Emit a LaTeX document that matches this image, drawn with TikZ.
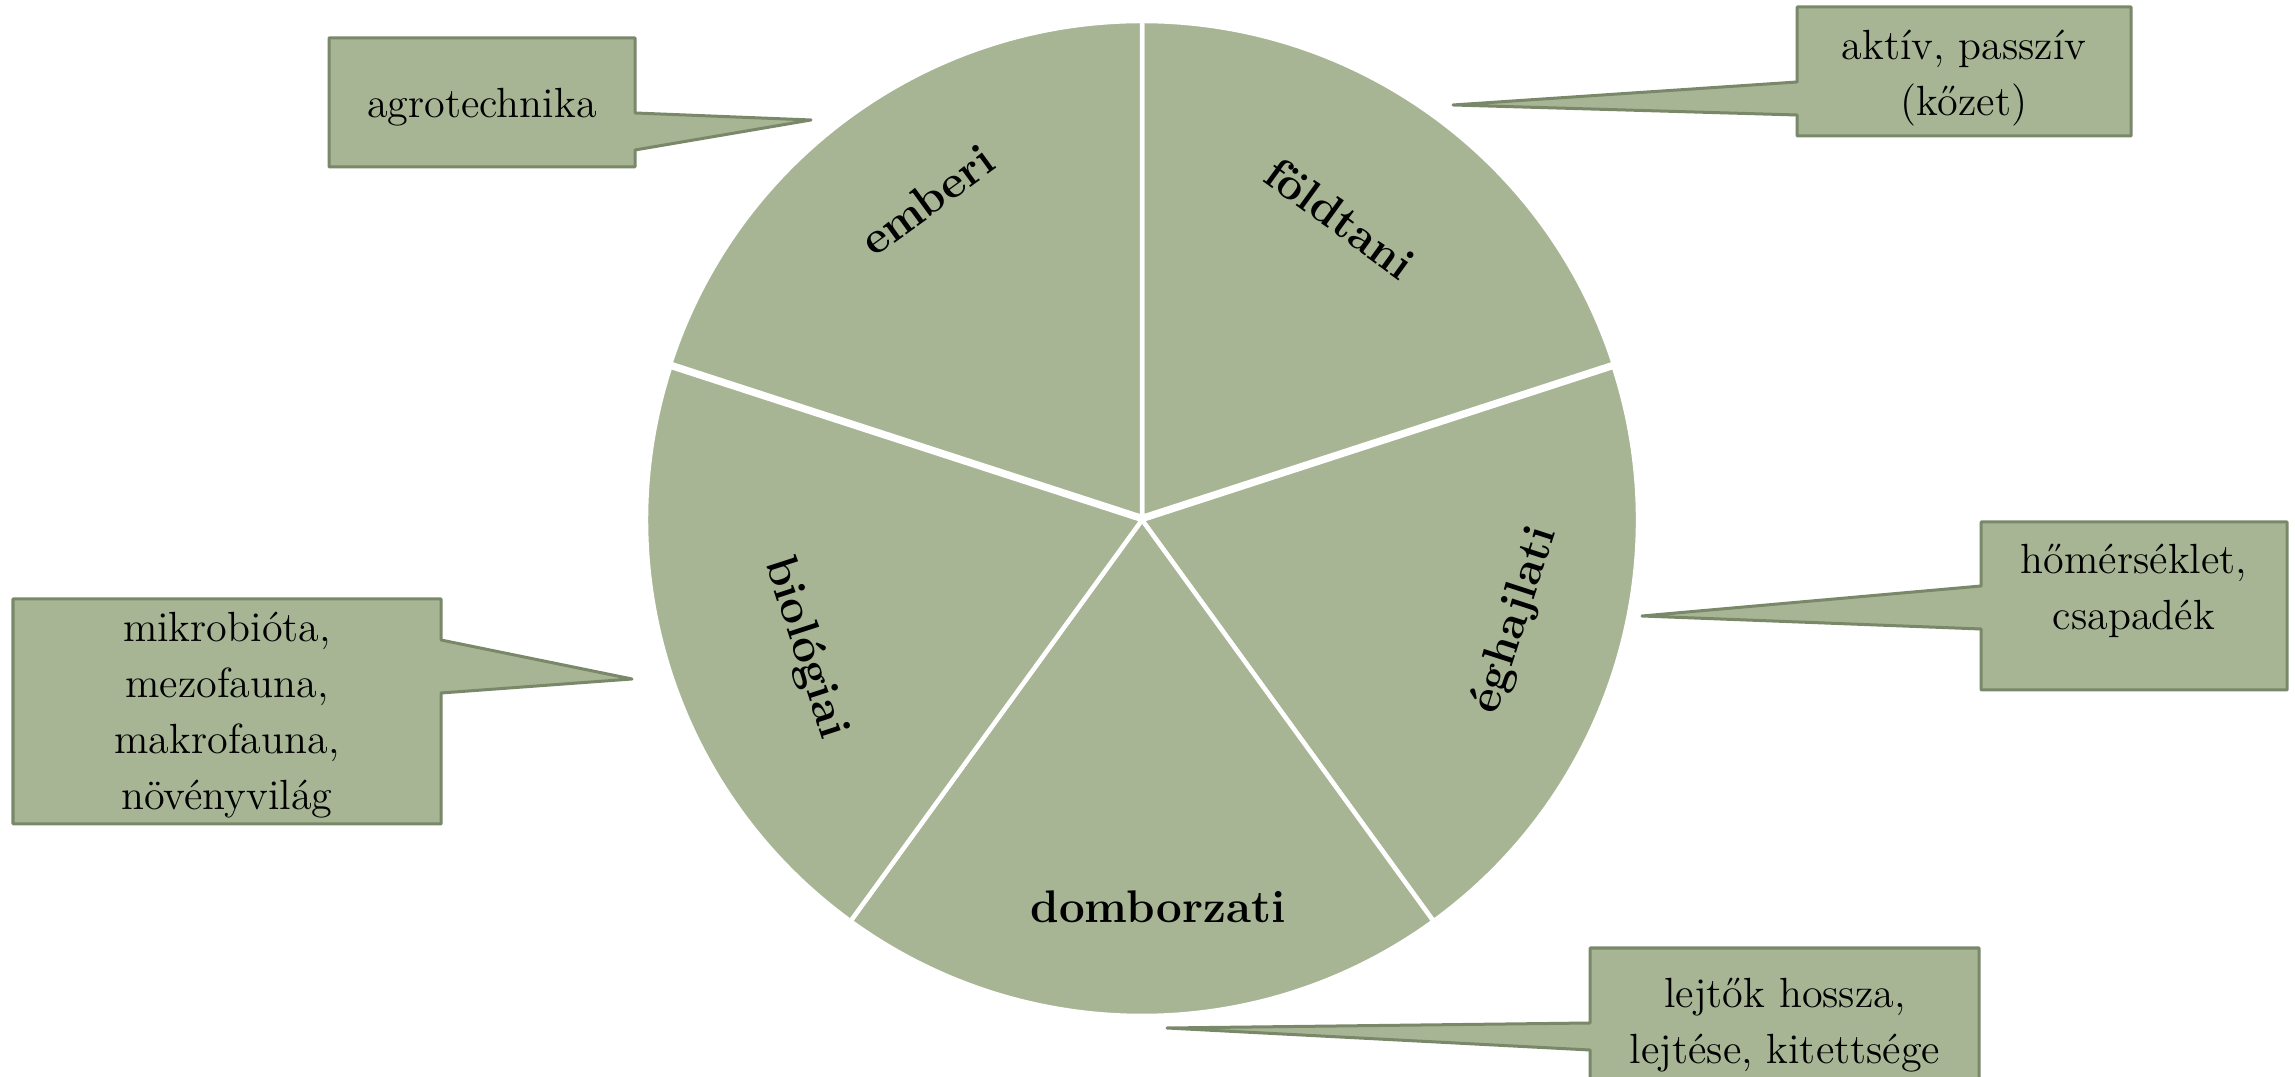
\documentclass[tikz,border=0pt]{standalone}
\usepackage{fontspec}
\begin{document}
\begin{tikzpicture}[x=0.01cm,y=0.01cm,
  pie/.style={fill=pieGreen,draw=white,line width=0.045cm,line join=miter},
  callout/.style={fill=pieGreen,draw=rimGreen,line width=0.03cm,line join=round},
  seglabel/.style={font=\fontsize{13}{15}\selectfont\bfseries,inner sep=0pt},
  notetext/.style={font=\fontsize{12}{15.9}\selectfont,align=center,inner sep=0pt}]
\definecolor{pieGreen}{RGB}{167,181,149}
\definecolor{rimGreen}{RGB}{122,136,106}
\useasboundingbox (0,0) rectangle (2295,1076);

% five equal sectors of the pie, the upper two lifted slightly
\coordinate (c) at (1142,556);
\fill[pie] ([yshift=0.03cm]c) -- ++(18:496) arc[start angle=18,end angle=90,radius=496] -- cycle;
\fill[pie] ([yshift=0.03cm]c) -- ++(90:496) arc[start angle=90,end angle=162,radius=496] -- cycle;
\fill[pie] (c) -- ++(-54:496) arc[start angle=-54,end angle=18,radius=496] -- cycle;
\fill[pie] (c) -- ++(-126:496) arc[start angle=-126,end angle=-54,radius=496] -- cycle;
\fill[pie] (c) -- ++(162:496) arc[start angle=162,end angle=234,radius=496] -- cycle;
\draw[pie] ([yshift=0.03cm]c) -- ++(18:496) arc[start angle=18,end angle=90,radius=496] -- cycle;
\draw[pie] ([yshift=0.03cm]c) -- ++(90:496) arc[start angle=90,end angle=162,radius=496] -- cycle;
\draw[pie] (c) -- ++(-54:496) arc[start angle=-54,end angle=18,radius=496] -- cycle;
\draw[pie] (c) -- ++(-126:496) arc[start angle=-126,end angle=-54,radius=496] -- cycle;
\draw[pie] (c) -- ++(162:496) arc[start angle=162,end angle=234,radius=496] -- cycle;

% sector labels
\node[seglabel,rotate=36]  (emb) at (927,876)  {emberi};
\node[seglabel,rotate=-36] (fol) at (1340,858) {földtani};
\node[seglabel,rotate=72]  (egh) at (1515,456) {éghajlati};
\node[seglabel]            (dom) at (1158,169) {domborzati};
\node[seglabel,rotate=-72] (bio) at (805,428)  {biológiai};

% callouts with pointers towards the sectors
\draw[callout] (329,1038) -- (635,1038) -- (635,963) -- (811,956) -- (635,926)
  -- (635,909) -- (329,909) -- cycle;
\node[notetext] (n1) at (482,969) {agrotechnika};

\draw[callout] (1797,1069) -- (2131,1069) -- (2131,940) -- (1797,940)
  -- (1797,961) -- (1453,971) -- (1797,994) -- cycle;
\node[notetext] (n2) at (1964,998) {aktív, passzív\\(kőzet)};

\draw[callout] (1981,554) -- (2287,554) -- (2287,386) -- (1981,386)
  -- (1981,447) -- (1642,460) -- (1981,490) -- cycle;
\node[notetext] (n3) at (2134,485) {hőmérséklet,\\csapadék};

\draw[callout] (13,477) -- (441,477) -- (441,436) -- (632,397) -- (441,383)
  -- (441,252) -- (13,252) -- cycle;
\node[notetext] (n4) at (227,361) {mikrobióta,\\mezofauna,\\makrofauna,\\növényvilág};

\draw[callout] (1590,128) -- (1979,128) -- (1979,-8) -- (1590,-8)
  -- (1590,26) -- (1167,48) -- (1590,53) -- cycle;
\node[notetext] (n5) at (1785,51) {lejtők hossza,\\lejtése, kitettsége};
\end{tikzpicture}
\end{document}
